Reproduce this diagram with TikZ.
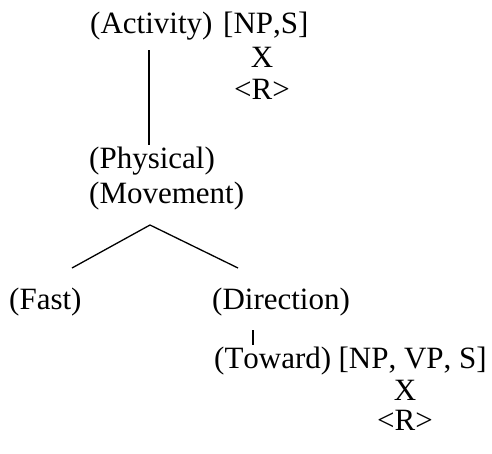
\documentclass[tikz,border=0pt]{standalone}
\usepackage{fontspec}
\setmainfont{Liberation Serif}[Kerning=Off]
\usetikzlibrary{calc}
\begin{document}
\begin{tikzpicture}[x=1pt,y=-1pt,
  lbl/.style={inner sep=0pt, font=\fontsize{31}{31}\selectfont},
  edge/.style={line width=1.3pt}]
\useasboundingbox (0,0) rectangle (492,453);
\node[lbl, anchor=base west] (act) at (90,33) {(Activity)};
\node[lbl, anchor=base west] (actf) at (223,33) {[NP,S]};
\node[lbl, anchor=base] (x1) at (262,67) {X};
\node[lbl, anchor=base] (r1) at (262,99) {<R>};
\node[lbl, anchor=base west] (phys) at (89,168) {(Physical)};
\node[lbl, anchor=base west] (move) at (89,203) {(Movement)};
\coordinate (apex) at (150,225);
\coordinate (lend) at (72,268);
\coordinate (rend) at (238,268);
\node[lbl, anchor=base west] (fast) at (9,309) {(Fast)};
\node[lbl, anchor=base west] (dir) at (212,309) {(Direction)};
\node[lbl, anchor=base west] (tow) at (214,368) {(Toward)};
\node[lbl, anchor=base east] (towf) at (487,368) {[NP, VP, S]};
\node[lbl, anchor=base] (x2) at (405,400) {X};
\node[lbl, anchor=base] (r2) at (405,430) {<R>};
\draw[edge] (149,50) -- (149,145);
\draw[edge] (lend) -- (apex) -- (rend);
\draw[edge] (253,330) -- (253,345);
\end{tikzpicture}
\end{document}
